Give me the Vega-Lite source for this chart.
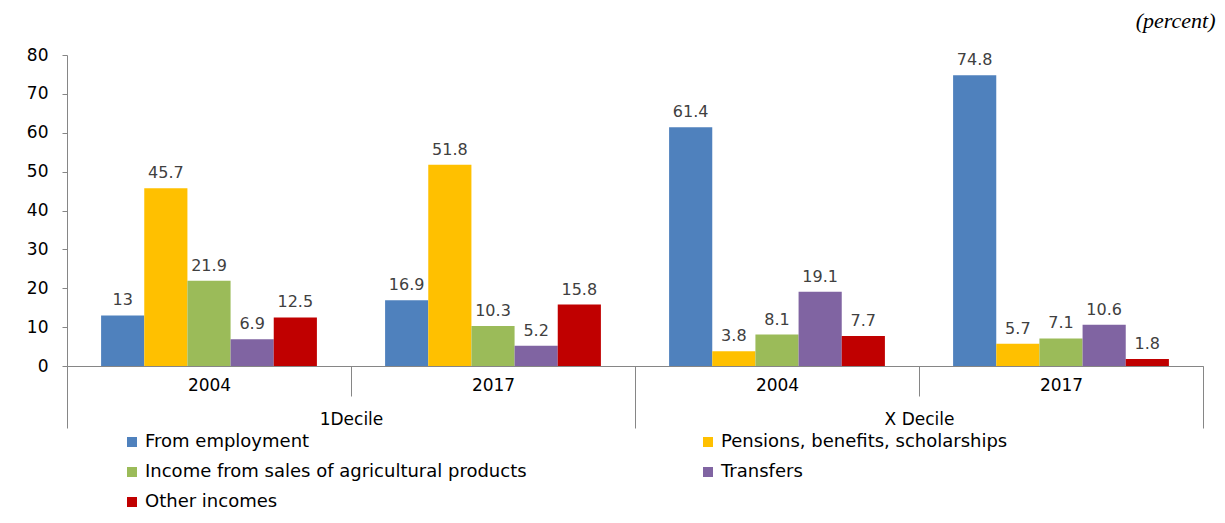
{
  "$schema": "https://vega.github.io/schema/vega-lite/v6.json",
  "width": 1136,
  "height": 311,
  "autosize": {"type": "none"},
  "padding": {"left": 67, "top": 55, "right": 22, "bottom": 157},
  "background": "white",
  "title": {"text": "(percent)", "anchor": "end", "font": "Liberation Serif", "fontStyle": "italic", "fontWeight": "normal", "fontSize": 22, "color": "#000000", "dx": 12, "offset": 13},
  "config": {"view": {"stroke": null}, "font": "DejaVu Sans"},
  "data": {"values": [
    {"grp": "1Decile|2004", "decile": "1Decile", "series": "From employment", "value": 13},
    {"grp": "1Decile|2004", "decile": "1Decile", "series": "Pensions, benefits, scholarships", "value": 45.7},
    {"grp": "1Decile|2004", "decile": "1Decile", "series": "Income from sales of agricultural products", "value": 21.9},
    {"grp": "1Decile|2004", "decile": "1Decile", "series": "Transfers", "value": 6.9},
    {"grp": "1Decile|2004", "decile": "1Decile", "series": "Other incomes", "value": 12.5},
    {"grp": "1Decile|2017", "decile": "1Decile", "series": "From employment", "value": 16.9},
    {"grp": "1Decile|2017", "decile": "1Decile", "series": "Pensions, benefits, scholarships", "value": 51.8},
    {"grp": "1Decile|2017", "decile": "1Decile", "series": "Income from sales of agricultural products", "value": 10.3},
    {"grp": "1Decile|2017", "decile": "1Decile", "series": "Transfers", "value": 5.2},
    {"grp": "1Decile|2017", "decile": "1Decile", "series": "Other incomes", "value": 15.8},
    {"grp": "X Decile|2004", "decile": "X Decile", "series": "From employment", "value": 61.4},
    {"grp": "X Decile|2004", "decile": "X Decile", "series": "Pensions, benefits, scholarships", "value": 3.8},
    {"grp": "X Decile|2004", "decile": "X Decile", "series": "Income from sales of agricultural products", "value": 8.1},
    {"grp": "X Decile|2004", "decile": "X Decile", "series": "Transfers", "value": 19.1},
    {"grp": "X Decile|2004", "decile": "X Decile", "series": "Other incomes", "value": 7.7},
    {"grp": "X Decile|2017", "decile": "X Decile", "series": "From employment", "value": 74.8},
    {"grp": "X Decile|2017", "decile": "X Decile", "series": "Pensions, benefits, scholarships", "value": 5.7},
    {"grp": "X Decile|2017", "decile": "X Decile", "series": "Income from sales of agricultural products", "value": 7.1},
    {"grp": "X Decile|2017", "decile": "X Decile", "series": "Transfers", "value": 10.6},
    {"grp": "X Decile|2017", "decile": "X Decile", "series": "Other incomes", "value": 1.8}
  ]},
  "layer": [
    {
      "encoding": {
        "x": {"field": "grp", "type": "nominal", "sort": ["1Decile|2004", "1Decile|2017", "X Decile|2004", "X Decile|2017"],
              "scale": {"paddingInner": 0, "paddingOuter": 0},
              "axis": {"orient": "bottom", "title": null, "tickBand": "extent", "tickSize": 30, "labelPadding": -19, "labelAngle": 0,
                       "domainColor": "#868686", "tickColor": "#868686", "labelFontSize": 17, "labelColor": "#000000",
                       "labelExpr": "split(datum.label, '|')[1]", "grid": false}},
        "xOffset": {"field": "series", "type": "nominal",
                    "sort": ["From employment", "Pensions, benefits, scholarships", "Income from sales of agricultural products", "Transfers", "Other incomes"],
                    "scale": {"paddingInner": 0, "paddingOuter": 0.79}},
        "y": {"field": "value", "type": "quantitative", "scale": {"domain": [0, 80]},
              "axis": {"title": null, "values": [0, 10, 20, 30, 40, 50, 60, 70, 80], "labelOverlap": false, "grid": false, "domainColor": "#868686", "tickColor": "#868686",
                       "tickSize": 5, "labelPadding": 14, "labelFontSize": 17, "labelColor": "#000000"}}
      },
      "layer": [
        {
          "mark": {"type": "bar"},
          "encoding": {
            "color": {"field": "series", "type": "nominal",
                      "scale": {"domain": ["From employment", "Income from sales of agricultural products", "Other incomes", "Pensions, benefits, scholarships", "Transfers"],
                                "range": ["#4F81BD", "#9BBB59", "#C00000", "#FFC000", "#8064A2"]},
                      "legend": {"orient": "none", "legendX": 56, "legendY": 378, "columns": 2, "columnPadding": 172, "rowPadding": 12,
                                 "symbolType": "square", "symbolSize": 100, "symbolStrokeWidth": 0, "labelFontSize": 18, "labelColor": "#000000",
                                 "title": null, "labelLimit": 700}}
          }
        },
        {
          "mark": {"type": "text", "baseline": "bottom", "dy": -7, "fontSize": 16, "color": "#404040"},
          "encoding": {"text": {"field": "value", "type": "quantitative"}}
        }
      ]
    },
    {
      "mark": {"type": "tick", "opacity": 0},
      "encoding": {
        "x": {"field": "decile", "type": "nominal", "sort": ["1Decile", "X Decile"],
              "scale": {"paddingInner": 0, "paddingOuter": 0},
              "axis": {"orient": "bottom", "title": null, "tickBand": "extent", "tickSize": 62, "labelPadding": -17, "labelAngle": 0,
                       "domain": false, "tickColor": "#868686", "labelFontSize": 17, "labelColor": "#000000", "grid": false}}
      }
    }
  ],
  "resolve": {"scale": {"x": "independent"}, "axis": {"x": "independent"}}
}
